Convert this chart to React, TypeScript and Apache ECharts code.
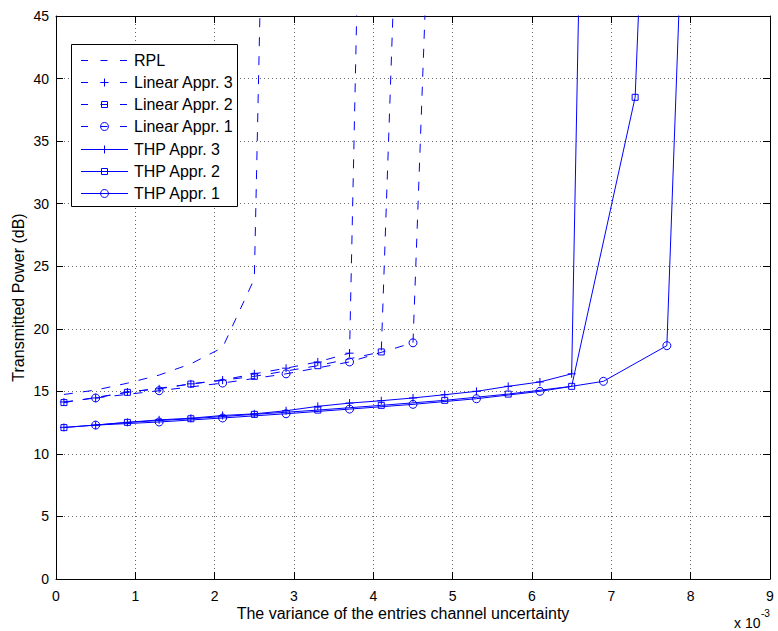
import React, { useEffect, useRef } from "react";
import * as echarts from "echarts";

// ---- data (x in units of 1e-3, y in dB) ----
const seriesNames = [
  "RPL",
  "Linear Appr. 3",
  "Linear Appr. 2",
  "Linear Appr. 1",
  "THP Appr. 3",
  "THP Appr. 2",
  "THP Appr. 1",
];

const rplX = [0.1, 0.5, 0.9, 1.3, 1.7, 2.1, 2.5, 2.9];
const rplY = [14.75, 15.1, 15.65, 16.3, 17.2, 18.5, 24.0, 144];

const lin3X = [0.1, 0.5, 0.9, 1.3, 1.7, 2.1, 2.5, 2.9, 3.3, 3.7, 4.1];
const lin3Y = [14.15, 14.47, 14.95, 15.2, 15.6, 15.9, 16.4, 16.85, 17.35, 18.05, 138];

const lin2X = [0.1, 0.9, 1.7, 2.5, 3.3, 4.1, 4.9];
const lin2Y = [14.1, 14.92, 15.58, 16.2, 17.05, 18.15, 165];

const lin1X = [0.5, 1.3, 2.1, 2.9, 3.7, 4.5, 5.3];
const lin1Y = [14.47, 15.05, 15.66, 16.4, 17.35, 18.88, 158];

const thp3X = [0.1, 0.5, 0.9, 1.3, 1.7, 2.1, 2.5, 2.9, 3.3, 3.7, 4.1, 4.5, 4.9, 5.3, 5.7, 6.1, 6.5, 6.9];
const thp3Y = [12.12, 12.3, 12.52, 12.72, 12.85, 13.07, 13.2, 13.45, 13.8, 14.06, 14.25, 14.47, 14.73, 15.0, 15.4, 15.75, 16.4, 150];

const thp2X = [0.1, 0.9, 1.7, 2.5, 3.3, 4.1, 4.9, 5.7, 6.5, 7.3, 8.1];
const thp2Y = [12.1, 12.52, 12.81, 13.16, 13.5, 13.88, 14.28, 14.78, 15.4, 38.5, 165];

const thp1X = [0.5, 1.3, 2.1, 2.9, 3.7, 4.5, 5.3, 6.1, 6.9, 7.7, 8.5];
const thp1Y = [12.3, 12.55, 12.87, 13.21, 13.58, 13.96, 14.41, 15.0, 15.8, 18.65, 159];

const xTicks = { min: 0, max: 9, interval: 1 };
const yTicks = { min: 0, max: 45, interval: 5 };

const BLUE = "#0000ff";
const FONT = "Liberation Sans, Arial, Helvetica, sans-serif";
const PLUS = "path://M0 5L10 5M5 0L5 10";

type Marker = "none" | "plus" | "square" | "circle";
const seriesDefs: { x: number[]; y: number[]; dashed: boolean; marker: Marker }[] = [
  { x: rplX, y: rplY, dashed: true, marker: "none" },
  { x: lin3X, y: lin3Y, dashed: true, marker: "plus" },
  { x: lin2X, y: lin2Y, dashed: true, marker: "square" },
  { x: lin1X, y: lin1Y, dashed: true, marker: "circle" },
  { x: thp3X, y: thp3Y, dashed: false, marker: "plus" },
  { x: thp2X, y: thp2Y, dashed: false, marker: "square" },
  { x: thp1X, y: thp1Y, dashed: false, marker: "circle" },
];

function symbolOf(m: Marker) {
  if (m === "plus") return { symbol: PLUS, symbolSize: 8 };
  if (m === "square") return { symbol: "rect", symbolSize: 6 };
  if (m === "circle") return { symbol: "circle", symbolSize: 8 };
  return { symbol: "none", symbolSize: 0 };
}

function legendMarker(m: Marker, cx: number, cy: number): any[] {
  const st = { fill: "none", stroke: BLUE, lineWidth: 1 };
  if (m === "plus")
    return [
      { type: "line", z: 101, shape: { x1: cx - 4, y1: cy, x2: cx + 4, y2: cy }, style: st },
      { type: "line", z: 101, shape: { x1: cx, y1: cy - 4, x2: cx, y2: cy + 4 }, style: st },
    ];
  if (m === "square")
    return [{ type: "rect", z: 101, shape: { x: cx - 3, y: cy - 3, width: 6, height: 6 }, style: st }];
  if (m === "circle") return [{ type: "circle", z: 101, shape: { cx, cy, r: 4 }, style: st }];
  return [];
}

export default function App() {
  const ref = useRef<HTMLDivElement>(null);
  useEffect(() => {
    if (!ref.current) return;
    const chart = echarts.init(ref.current, undefined, { renderer: "svg" });

    const gridLine = { show: true, lineStyle: { color: "#666", type: [1, 3] as any, width: 1 } };
    const axisLine = { show: true, onZero: false, lineStyle: { color: "#000", width: 1 } };
    const tick = { show: true, inside: true, length: 7, lineStyle: { color: "#000", width: 1 } };
    const label = { color: "#000", fontSize: 14, fontFamily: FONT };

    const series = seriesDefs.map((d, i) => ({
      type: "line",
      name: seriesNames[i],
      data: d.x.map((x, k) => [x, d.y[k]]),
      ...symbolOf(d.marker),
      showAllSymbol: true,
      clip: true,
      silent: true,
      z: 3,
      lineStyle: { color: BLUE, width: 1, type: d.dashed ? [9, 10] : "solid" },
      itemStyle: { color: "rgba(0,0,0,0)", borderColor: BLUE, borderWidth: 1 },
      emphasis: { disabled: true },
    }));

    // legend (drawn as graphics to mimic MATLAB legend box)
    const lgX = 71.5, lgY = 44.5, lgW = 166, lgH = 162;
    const rowY0 = 59.5, rowGap = 22.33;
    const lineX1 = 81, lineX2 = 128, textX = 134;
    const legendEls: any[] = [
      { type: "rect", z: 100, shape: { x: lgX, y: lgY, width: lgW, height: lgH }, style: { fill: "#fff", stroke: "#000", lineWidth: 1 } },
    ];
    seriesDefs.forEach((d, i) => {
      const cy = Math.round(rowY0 + i * rowGap) + 0.5;
      legendEls.push({
        type: "line",
        z: 101,
        shape: { x1: lineX1, y1: cy, x2: lineX2, y2: cy },
        style: { stroke: BLUE, lineWidth: 1, lineDash: d.dashed ? [7, 12.5] : null },
      });
      legendEls.push(...legendMarker(d.marker, (lineX1 + lineX2) / 2, cy));
      legendEls.push({
        type: "text",
        z: 101,
        x: textX,
        y: cy,
        style: { text: seriesNames[i], fontSize: 16, fontFamily: FONT, fill: "#000", align: "left", verticalAlign: "middle" },
      });
    });

    const option: any = {
      animation: false,
      backgroundColor: "#fff",
      grid: { left: 56, right: 8, top: 16, bottom: 52, containLabel: false },
      xAxis: [
        { type: "value", position: "bottom", ...xTicks, axisLine, axisTick: tick, axisLabel: { ...label, margin: 10 }, splitLine: gridLine },
        { type: "value", position: "top", ...xTicks, axisLine, axisTick: tick, axisLabel: { show: false }, splitLine: { show: false } },
      ],
      yAxis: [
        { type: "value", position: "left", ...yTicks, axisLine, axisTick: tick, axisLabel: { ...label, margin: 7 }, splitLine: gridLine },
        { type: "value", position: "right", ...yTicks, axisLine, axisTick: tick, axisLabel: { show: false }, splitLine: { show: false } },
      ],
      series,
      graphic: [
        ...legendEls,
        {
          type: "text",
          z: 100,
          x: 403,
          y: 613,
          style: { text: "The variance of the entries channel uncertainty", fontSize: 16, fontFamily: FONT, fill: "#000", align: "center", verticalAlign: "middle" },
        },
        {
          type: "text",
          z: 100,
          x: 18,
          y: 297.5,
          rotation: Math.PI / 2,
          style: { text: "Transmitted Power (dB)", fontSize: 16, fontFamily: FONT, fill: "#000", align: "center", verticalAlign: "middle" },
        },
        {
          type: "text",
          z: 100,
          x: 734,
          y: 623,
          style: { text: "x 10", fontSize: 14, fontFamily: FONT, fill: "#000", align: "left", verticalAlign: "middle" },
        },
        {
          type: "text",
          z: 100,
          x: 761,
          y: 613,
          style: { text: "-3", fontSize: 10, fontFamily: FONT, fill: "#000", align: "left", verticalAlign: "middle" },
        },
      ],
    };
    chart.setOption(option);
    return () => chart.dispose();
  }, []);

  return <div ref={ref} style={{ position: "absolute", left: 0, top: 0, width: 778, height: 631 }} />;
}
